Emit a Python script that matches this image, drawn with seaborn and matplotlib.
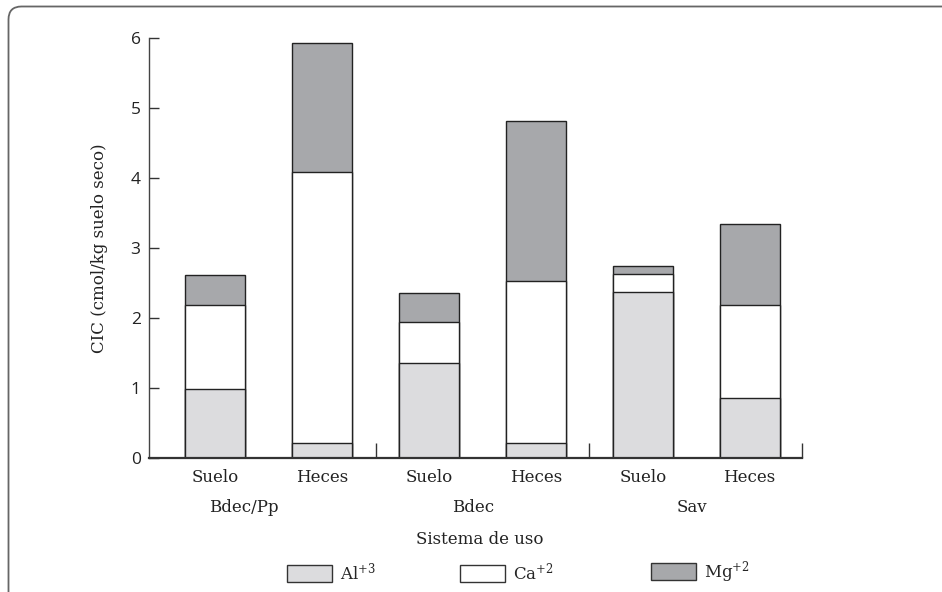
import matplotlib
matplotlib.use("Agg")
import matplotlib.pyplot as plt
import seaborn as sns
import pandas as pd
import numpy as np
from matplotlib.patches import Patch, FancyBboxPatch

# ---- data ----
bar_labels = ["Suelo", "Heces", "Suelo", "Heces", "Suelo", "Heces"]
groups = ["Bdec/Pp", "Bdec", "Sav"]
al = [0.98, 0.22, 1.36, 0.22, 2.37, 0.86]
ca = [1.20, 3.86, 0.59, 2.31, 0.26, 1.33]
mg = [0.44, 1.85, 0.41, 2.29, 0.12, 1.16]
legend_labels = [r"Al$^{+3}$", r"Ca$^{+2}$", r"Mg$^{+2}$"]
y_ticks = [0, 1, 2, 3, 4, 5, 6]

colors = ["#dcdcde", "#ffffff", "#a7a8ab"]

sns.set_theme(style="white")
plt.rcParams["font.family"] = ["DejaVu Serif"]
plt.rcParams["mathtext.fontset"] = "dejavuserif"

ids = [f"b{i}" for i in range(len(bar_labels))]
df = pd.DataFrame({"id": ids, "al": al, "ca": ca, "mg": mg})
df["t1"] = df["al"]
df["t2"] = df["al"] + df["ca"]
df["t3"] = df["t2"] + df["mg"]

fig = plt.figure(figsize=(9.42, 5.92), dpi=100)
ax = fig.add_axes([149 / 942, 1 - 458 / 592, 653 / 942, 420 / 592])

for col, c in zip(["t3", "t2", "t1"], colors[::-1]):
    sns.barplot(data=df, x="id", y=col, order=ids, color=c, width=0.56,
                edgecolor="#222222", linewidth=1.0, saturation=1, ax=ax)

ax.set_xlim(-0.62, 5.49)
ax.set_ylim(0, 6)
ax.set_yticks(y_ticks)
ax.set_yticklabels([str(v) for v in y_ticks], fontfamily="Open Sans", fontsize=12.5, color="#222222")
ax.set_xticks(range(len(bar_labels)))
ax.set_xticklabels(bar_labels, fontsize=12, color="#222222")
ax.tick_params(axis="x", which="major", length=0, pad=8)
ax.set_xticks([1.5, 3.5, 5.49], minor=True)
ax.tick_params(axis="x", which="minor", direction="in", length=11, width=1.0,
               color="#333333", bottom=True)
ax.tick_params(axis="y", direction="in", length=7, width=1.0, color="#333333", pad=6, left=True)
for s in ["top", "right"]:
    ax.spines[s].set_visible(False)
ax.spines["left"].set_color("#444444")
ax.spines["left"].set_linewidth(1.0)
ax.spines["bottom"].set_color("#333333")
ax.spines["bottom"].set_linewidth(1.6)

ax.set_ylabel("CIC (cmol/kg suelo seco)", fontsize=12, color="#222222", labelpad=16)
ax.set_xlabel("")

group_x = [0.27, 2.41, 4.46]
for gx, g in zip(group_x, groups):
    ax.text(gx, -0.7, g, ha="center", va="center", fontsize=12, color="#222222",
            transform=ax.transData, clip_on=False)
fig.text(480 / 942, 1 - 540 / 592, "Sistema de uso", ha="center", va="center",
         fontsize=12, color="#222222")

patch_x = [287, 460, 651]
for px, lab, c in zip(patch_x, legend_labels, colors):
    h = Patch(facecolor=c, edgecolor="#333333", linewidth=1.0)
    fig.legend(handles=[h], labels=[lab], loc="center left",
               bbox_to_anchor=(px / 942, 1 - 572 / 592), frameon=False,
               borderpad=0, borderaxespad=0, handlelength=2.7, handleheight=1.2,
               handletextpad=0.5, fontsize=12)

border = FancyBboxPatch((0.085, -0.5), 10.0, 5.855 + 0.5,
                        boxstyle="round,pad=0,rounding_size=0.13",
                        transform=fig.dpi_scale_trans, facecolor="none",
                        edgecolor="#666666", linewidth=1.3, clip_on=False)
fig.add_artist(border)

fig.savefig("out.png", dpi=100)
